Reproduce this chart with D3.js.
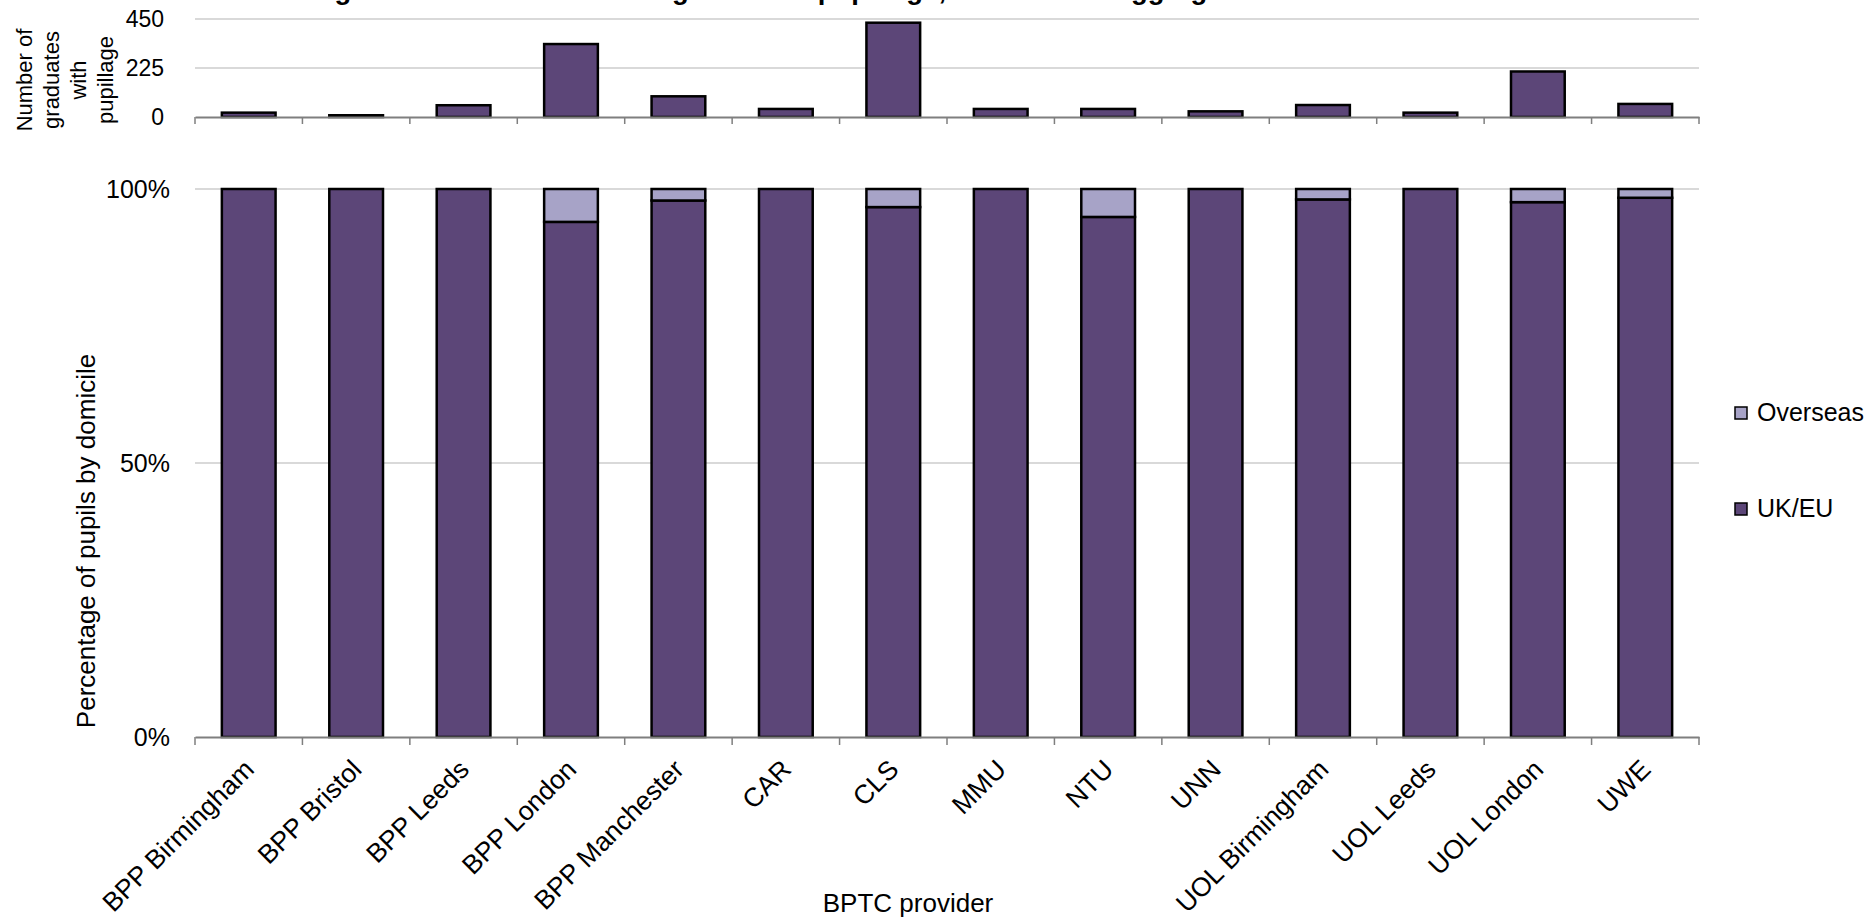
<!DOCTYPE html>
<html>
<head>
<meta charset="utf-8">
<script src="https://cdn.jsdelivr.net/npm/d3@7"></script>
<style>
  html, body { margin: 0; padding: 0; background: #fff; }
  svg { display: block; font-family: "Liberation Sans", Arial, sans-serif; }
</style>
</head>
<body>
<svg id="chart" width="1874" height="919"></svg>
<script>
// ---- data ----
const categories = ["BPP Birmingham", "BPP Bristol", "BPP Leeds", "BPP London", "BPP Manchester",
  "CAR", "CLS", "MMU", "NTU", "UNN", "UOL Birmingham", "UOL Leeds", "UOL London", "UWE"];
const pupillageCounts = [20, 8, 54, 335, 95, 37, 433, 37, 37, 26, 55, 20, 209, 60];
const ukEuPct = [100, 100, 100, 94.0, 97.9, 100, 96.7, 100, 94.9, 100, 98.1, 100, 97.6, 98.4];
const overseasPct = [0, 0, 0, 6.0, 2.1, 0, 3.3, 0, 5.1, 0, 1.9, 0, 2.4, 1.6];
const seriesNames = ["UK/EU", "Overseas"];
const countTicks = [0, 225, 450];
const pctTicks = [0, 50, 100];
const titleText = "Figure 1: Domicile of BPTC graduates' pupillage, total and disaggregated";
const topAxisTitle = ["Number of", "graduates", "with", "pupillage"];
const bottomAxisTitle = "Percentage of pupils by domicile";
const xAxisTitle = "BPTC provider";

// ---- styles ----
const colors = { "UK/EU": "#5C4678", "Overseas": "#A7A3C7" };
const gridColor = "#d9d9d9";
const axisColor = "#7f7f7f";

const svg = d3.select("#chart");
const left = 195, right = 1699;

const x = d3.scaleBand().domain(categories).range([left, right]).paddingInner(0.5).paddingOuter(0.25);
const yTop = d3.scaleLinear().domain([0, 450]).range([117, 19]);
const yBot = d3.scaleLinear().domain([0, 100]).range([737, 189]);

// title (cut off at top, as in the reference)
svg.append("text").attr("x", 310).attr("y", -1).attr("font-weight", "bold")
  .attr("font-size", 27.5).attr("fill", "#000").text(titleText);

// ---- top chart ----
const gTop = svg.append("g");
gTop.selectAll("line.grid").data(countTicks.filter(d => d > 0)).join("line")
  .attr("x1", left).attr("x2", right)
  .attr("y1", d => yTop(d)).attr("y2", d => yTop(d))
  .attr("stroke", gridColor).attr("stroke-width", 2);

gTop.selectAll("rect.bar").data(categories).join("rect")
  .attr("x", d => x(d)).attr("width", x.bandwidth())
  .attr("y", (d, i) => yTop(pupillageCounts[i]))
  .attr("height", (d, i) => yTop(0) - yTop(pupillageCounts[i]))
  .attr("fill", colors["UK/EU"]).attr("stroke", "#000").attr("stroke-width", 2.5);

const topAxis = d3.axisBottom(x).tickSize(0).tickFormat("");
gTop.append("g").attr("transform", `translate(0,${yTop(0)})`).call(topAxis)
  .call(g => g.select(".domain").attr("stroke", axisColor).attr("stroke-width", 2));
const boundaries = d3.range(categories.length + 1).map(i => left + i * x.step());
gTop.selectAll("line.btick").data(boundaries).join("line")
  .attr("x1", d => d).attr("x2", d => d).attr("y1", yTop(0)).attr("y2", yTop(0) + 7)
  .attr("stroke", axisColor).attr("stroke-width", 1.5);

gTop.selectAll("text.ylab").data(countTicks).join("text")
  .attr("x", 164).attr("y", d => yTop(d)).attr("dy", "0.35em")
  .attr("text-anchor", "end").attr("font-size", 23).attr("fill", "#000").text(d => d);

gTop.selectAll("text.ytitle").data(topAxisTitle).join("text")
  .attr("transform", (d, i) => `translate(${32 + i * 27},80) rotate(-90)`)
  .attr("text-anchor", "middle").attr("font-size", 22).attr("fill", "#000").text(d => d);

// ---- bottom chart ----
const gBot = svg.append("g");
gBot.selectAll("line.grid").data(pctTicks.filter(d => d > 0)).join("line")
  .attr("x1", left).attr("x2", right)
  .attr("y1", d => yBot(d)).attr("y2", d => yBot(d))
  .attr("stroke", gridColor).attr("stroke-width", 2);

const rows = categories.map((c, i) => ({ cat: c, "UK/EU": ukEuPct[i], "Overseas": overseasPct[i] }));
const stack = d3.stack().keys(seriesNames)(rows);
gBot.selectAll("g.series").data(stack).join("g")
  .attr("fill", d => colors[d.key])
  .selectAll("rect").data(d => d.filter(p => p[1] - p[0] > 0)).join("rect")
  .attr("x", d => x(d.data.cat)).attr("width", x.bandwidth())
  .attr("y", d => yBot(d[1])).attr("height", d => yBot(d[0]) - yBot(d[1]))
  .attr("stroke", "#000").attr("stroke-width", 2.5);

const botAxis = d3.axisBottom(x).tickSize(0).tickFormat("");
gBot.append("g").attr("transform", `translate(0,${yBot(0)})`).call(botAxis)
  .call(g => g.select(".domain").attr("stroke", axisColor).attr("stroke-width", 2));
gBot.selectAll("line.btick").data(boundaries).join("line")
  .attr("x1", d => d).attr("x2", d => d).attr("y1", yBot(0)).attr("y2", yBot(0) + 8)
  .attr("stroke", axisColor).attr("stroke-width", 1.5);

gBot.selectAll("text.ylab").data(pctTicks).join("text")
  .attr("x", 170).attr("y", d => yBot(d)).attr("dy", "0.35em")
  .attr("text-anchor", "end").attr("font-size", 25).attr("fill", "#000").text(d => d + "%");

gBot.selectAll("text.xlab").data(categories).join("text")
  .attr("transform", d => `translate(${x(d) + x.bandwidth() / 2 + 7},771) rotate(-45)`)
  .attr("text-anchor", "end").attr("font-size", 26.5).attr("fill", "#000").text(d => d);

gBot.append("text").attr("transform", "translate(95,541) rotate(-90)")
  .attr("text-anchor", "middle").attr("font-size", 26).attr("fill", "#000").text(bottomAxisTitle);

svg.append("text").attr("x", 908).attr("y", 912).attr("text-anchor", "middle")
  .attr("font-size", 26).attr("fill", "#000").text(xAxisTitle);

// legend
const legendItems = [{ name: "Overseas", y: 413 }, { name: "UK/EU", y: 509 }];
const lg = svg.append("g");
lg.selectAll("rect").data(legendItems).join("rect")
  .attr("x", 1735).attr("y", d => d.y - 6).attr("width", 12).attr("height", 12)
  .attr("fill", d => colors[d.name]).attr("stroke", "#000").attr("stroke-width", 1.5);
lg.selectAll("text").data(legendItems).join("text")
  .attr("x", 1757).attr("y", d => d.y + 8).attr("font-size", 25).attr("fill", "#000").text(d => d.name);
</script>
</body>
</html>
